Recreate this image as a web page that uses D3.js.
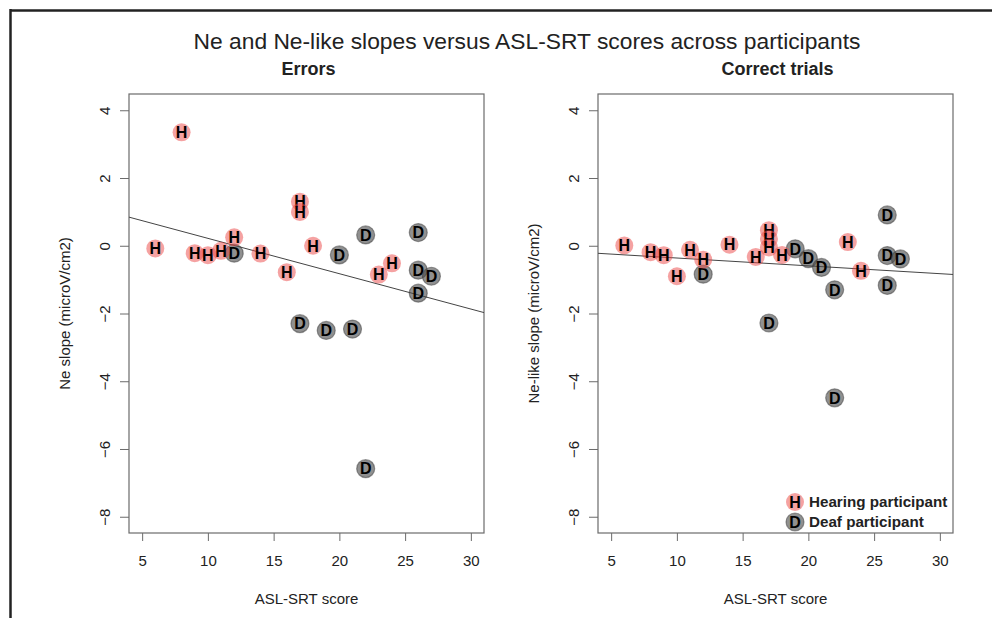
<!DOCTYPE html>
<html>
<head>
<meta charset="utf-8">
<script src="https://cdn.jsdelivr.net/npm/d3@7"></script>
<style>
  body { margin: 0; background: #fff; }
  svg { display: block; font-family: "Liberation Sans", Arial, sans-serif; }
</style>
</head>
<body>
<div id="chart"></div>
<script>
// Values
const chartTitle = "Ne and Ne-like slopes versus ASL-SRT scores across participants";
const panelTitles = ["Errors", "Correct trials"];
const yTitles = ["Ne slope (microV/cm2)", "Ne-like slope (microV/cm2)"];
const xTitle = "ASL-SRT score";
const xTicks = [5, 10, 15, 20, 25, 30];
const yTicks = [-8, -6, -4, -2, 0, 2, 4];
const xLimits = [5, 30];
const yLimits = [-8, 4];

// Errors panel
const errHearingX = [6, 8, 9, 10, 11, 12, 14, 16, 17, 17, 18, 23, 24];
const errHearingY = [-0.08, 3.35, -0.22, -0.28, -0.15, 0.25, -0.23, -0.78, 1.3, 1.0, 0.0, -0.85, -0.52];
const errDeafX = [12, 17, 19, 20, 21, 22, 22, 26, 26, 26, 27];
const errDeafY = [-0.22, -2.3, -2.5, -0.27, -2.46, 0.32, -6.58, 0.39, -0.72, -1.4, -0.9];

// Correct trials panel
const corHearingX = [6, 8, 9, 10, 11, 12, 14, 16, 17, 17, 17, 18, 23, 24];
const corHearingY = [0.01, -0.19, -0.28, -0.9, -0.12, -0.41, 0.03, -0.33, 0.46, 0.2, -0.05, -0.27, 0.11, -0.74];
const corDeafX = [12, 17, 19, 20, 21, 22, 22, 26, 26, 26, 27];
const corDeafY = [-0.84, -2.28, -0.09, -0.38, -0.64, -1.3, -4.49, 0.91, -0.29, -1.17, -0.39];

const legendLabels = ["Hearing participant", "Deaf participant"];

const W = 992, H = 618;
const hearingFill = "rgba(235, 70, 70, 0.5)";
const deafFill = "rgba(70, 70, 70, 0.6)";
const deafStroke = "rgba(60, 60, 60, 0.5)";
const boxColor = "#6b6b6b";
const textColor = "#222";

const svg = d3.select("#chart").append("svg")
    .attr("width", W)
    .attr("height", H);

// Frame lines at the top and left edge
svg.append("line").attr("x1", 10).attr("x2", W).attr("y1", 10.5).attr("y2", 10.5)
    .attr("stroke", "#222").attr("stroke-width", 2.5);
svg.append("line").attr("x1", 10.5).attr("x2", 10.5).attr("y1", 9).attr("y2", H)
    .attr("stroke", "#222").attr("stroke-width", 2.5);

svg.append("text")
    .attr("x", 527).attr("y", 49)
    .attr("text-anchor", "middle")
    .attr("font-size", "22.8px")
    .attr("fill", textColor)
    .text(chartTitle);

// pad the limits by 4% like R does
function padded(lim) {
    const d = (lim[1] - lim[0]) * 0.04;
    return [lim[0] - d, lim[1] + d];
}

function linearFit(xs, ys) {
    const mx = d3.mean(xs), my = d3.mean(ys);
    let sxy = 0, sxx = 0;
    xs.forEach((x, i) => {
        sxy += (x - mx) * (ys[i] - my);
        sxx += (x - mx) * (x - mx);
    });
    const b = sxy / sxx;
    return { a: my - b * mx, b: b };
}

function drawMarker(g, x, y, letter, hearing) {
    g.append("circle")
        .attr("cx", x).attr("cy", y).attr("r", 9)
        .attr("fill", hearing ? hearingFill : deafFill)
        .attr("stroke", hearing ? "none" : deafStroke)
        .attr("stroke-width", 1.2);
    g.append("text")
        .attr("x", x).attr("y", y)
        .attr("dy", "0.36em")
        .attr("text-anchor", "middle")
        .attr("font-size", "16px")
        .attr("font-weight", "bold")
        .attr("fill", "#000")
        .text(letter);
}

function drawPanel(idx, left, right, hx, hy, dx, dy) {
    const top = 94, bottom = 533;
    const x = d3.scaleLinear().domain(padded(xLimits)).range([left, right]);
    const y = d3.scaleLinear().domain(padded(yLimits)).range([bottom, top]);
    const g = svg.append("g");

    g.append("text")
        .attr("x", (left + right) / 2 + 2).attr("y", 75)
        .attr("text-anchor", "middle")
        .attr("font-size", "18px")
        .attr("font-weight", "bold")
        .attr("fill", textColor)
        .text(panelTitles[idx]);

    // x axis
    const xAxis = g.append("g")
        .attr("transform", `translate(0,${bottom})`)
        .call(d3.axisBottom(x).tickValues(xTicks).tickSize(8).tickPadding(14));
    xAxis.select(".domain").remove();
    xAxis.selectAll("line").attr("stroke", boxColor);
    xAxis.selectAll("text").attr("font-size", "15px").attr("fill", textColor)
        .attr("font-family", "Liberation Sans, Arial, sans-serif");

    // y axis, labels turned like R's default
    const yAxis = g.append("g")
        .attr("transform", `translate(${left},0)`)
        .call(d3.axisLeft(y).tickValues(yTicks).tickSize(9).tickFormat(d => d < 0 ? "\u2212" + Math.abs(d) : d));
    yAxis.select(".domain").remove();
    yAxis.selectAll("line").attr("stroke", boxColor);
    yAxis.selectAll("text")
        .attr("font-size", "15px").attr("fill", textColor)
        .attr("font-family", "Liberation Sans, Arial, sans-serif")
        .attr("text-anchor", "middle")
        .attr("x", 0).attr("dy", 0)
        .attr("transform", "translate(-19,0) rotate(-90)");

    g.append("rect")
        .attr("x", left).attr("y", top)
        .attr("width", right - left).attr("height", bottom - top)
        .attr("fill", "none")
        .attr("stroke", boxColor)
        .attr("stroke-width", 1.2);

    g.append("text")
        .attr("x", (left + right) / 2).attr("y", 604)
        .attr("text-anchor", "middle")
        .attr("font-size", "15px")
        .attr("fill", textColor)
        .text(xTitle);

    g.append("text")
        .attr("transform", `translate(${left - 59},${(top + bottom) / 2}) rotate(-90)`)
        .attr("text-anchor", "middle")
        .attr("font-size", "15px")
        .attr("fill", textColor)
        .text(yTitles[idx]);

    // regression line over all participants
    const fit = linearFit(hx.concat(dx), hy.concat(dy));
    const xd = x.domain();
    g.append("line")
        .attr("x1", x(xd[0])).attr("y1", y(fit.a + fit.b * xd[0]))
        .attr("x2", x(xd[1])).attr("y2", y(fit.a + fit.b * xd[1]))
        .attr("stroke", "#444")
        .attr("stroke-width", 1);

    dx.forEach((v, i) => drawMarker(g, x(v), y(dy[i]), "D", false));
    hx.forEach((v, i) => drawMarker(g, x(v), y(hy[i]), "H", true));

    return g;
}

drawPanel(0, 129, 484, errHearingX, errHearingY, errDeafX, errDeafY);
const right = drawPanel(1, 598, 953, corHearingX, corHearingY, corDeafX, corDeafY);

// legend
legendLabels.forEach((lab, i) => {
    const ly = 502 + i * 20;
    drawMarker(right, 795, ly, i === 0 ? "H" : "D", i === 0);
    right.append("text")
        .attr("x", 809).attr("y", ly)
        .attr("dy", "0.36em")
        .attr("font-size", "15.2px")
        .attr("font-weight", "bold")
        .attr("fill", textColor)
        .text(lab);
});
</script>
</body>
</html>
